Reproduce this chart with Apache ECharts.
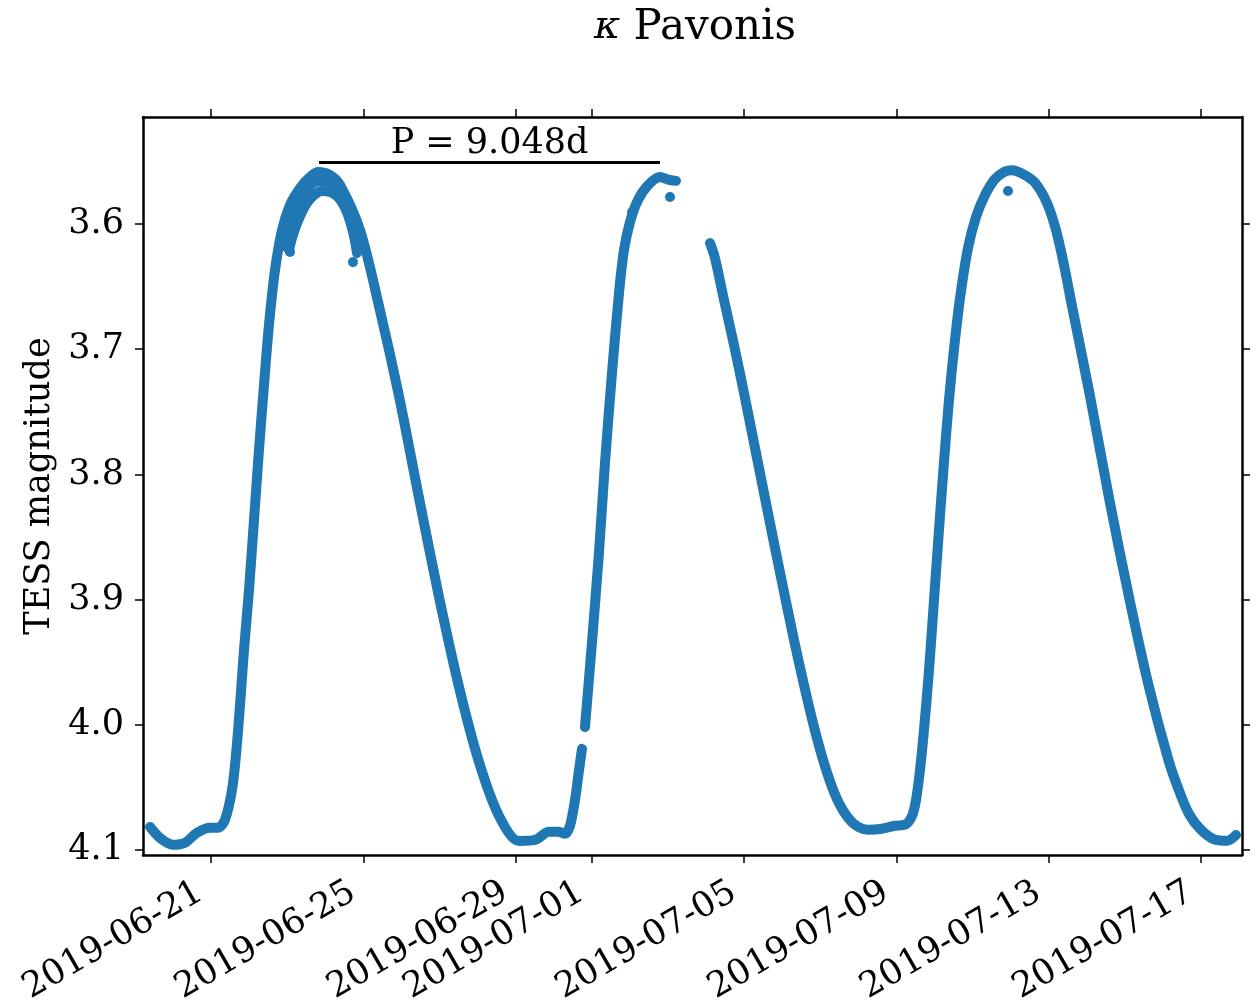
<!DOCTYPE html>
<html>
<head>
<meta charset="utf-8">
<script src="https://cdn.jsdelivr.net/npm/echarts@6/dist/echarts.min.js"></script>
<style>html,body{margin:0;padding:0;background:#fff}#c{width:1260px;height:1000px}</style>
</head>
<body>
<div id="c"></div>
<script>
// Time in days from 2019-06-21 00:00 UTC, magnitude in TESS mag
const seg1T = [-1.602,-1.339,-0.998,-0.683,-0.368,-0.026,0.184,0.368,0.551,0.656,0.762,0.866,0.998,1.129,1.260,1.392,1.523,1.681,1.865,2.075,2.337,2.600,2.810,3.125,3.388,3.913,4.412,4.937,5.463,5.988,6.513,7.038,7.564,8.089,8.509,8.877,9.113,9.297,9.428,9.560,9.665,9.743];
const seg1M = [4.0816,4.0904,4.0958,4.0942,4.0862,4.0822,4.0822,4.0758,4.0521,4.0241,3.9842,3.9403,3.8923,3.8364,3.7804,3.7286,3.6805,3.6367,3.6048,3.5848,3.5713,3.5625,3.5585,3.5609,3.5688,3.6048,3.6655,3.7374,3.8188,3.8979,3.9698,4.0297,4.0728,4.0928,4.0920,4.0854,4.0854,4.0870,4.0806,4.0600,4.0361,4.0192];
const seg2T = [9.822,10.006,10.190,10.347,10.531,10.715,10.846,11.004,11.214,11.477,11.792,12.002,12.212];
const seg2M = [4.0018,3.9339,3.8620,3.7909,3.7190,3.6551,3.6208,3.5984,3.5808,3.5690,3.5625,3.5645,3.5655];
const seg3T = [13.105,13.236,13.473,13.735,13.998,14.261,14.523,14.786,15.049,15.311,15.574,15.837,16.099,16.362,16.625,16.913,17.255,17.622,17.964,18.226,18.410,18.515,18.620,18.725,18.857,18.988,19.119,19.250,19.381,19.539,19.697,19.881,20.091,20.328,20.590,20.853,21.036,21.351,21.640,21.955,22.192,22.402,22.612,23.085,23.584,24.109,24.634,25.160,25.448,25.685,25.974,26.315,26.683,26.919];
const seg3M = [3.6152,3.6272,3.6607,3.6966,3.7350,3.7749,3.8149,3.8548,3.8939,3.9323,3.9682,4.0018,4.0305,4.0537,4.0696,4.0798,4.0838,4.0830,4.0806,4.0798,4.0728,4.0601,4.0361,4.0042,3.9563,3.9003,3.8443,3.7901,3.7406,3.6927,3.6535,3.6192,3.5944,3.5768,3.5640,3.5580,3.5570,3.5605,3.5670,3.5832,3.6048,3.6327,3.6655,3.7374,3.8188,3.8979,3.9698,4.0297,4.0545,4.0712,4.0831,4.0911,4.0927,4.0880];
// noisy band under the first maximum (lower envelope and middle of the scatter)
const noiseLowT = [2.048,2.127,2.232,2.364,2.521,2.705,2.915,3.125,3.309,3.467,3.598,3.703,3.782,3.834];
const noiseLowM = [3.6208,3.6112,3.6016,3.5920,3.5832,3.5768,3.5736,3.5744,3.5776,3.5840,3.5928,3.6032,3.6136,3.6232];
const noiseMidT = [1.970,2.101,2.285,2.495,2.731,2.968,3.204,3.414,3.572,3.703,3.808];
const noiseMidM = [3.6112,3.5952,3.5824,3.5728,3.5665,3.5657,3.5681,3.5744,3.5848,3.5968,3.6096];
// isolated points off the main curve
const outT = [1.917,2.075,3.729,11.057,12.055,20.931];
const outM = [3.6176,3.6224,3.6304,3.5904,3.5784,3.5736];
// period bar
const periodLabel = 'P = 9.048d';
const periodBarT = [2.836, 11.792];
const periodBarM = 3.5505;

const tickLabels = ['2019-06-21','2019-06-25','2019-06-29','2019-07-01','2019-07-05','2019-07-09','2019-07-13','2019-07-17'];
const yTicks = [3.6, 3.7, 3.8, 3.9, 4.0, 4.1];
const titleText = 'Pavonis';
const yName = 'TESS magnitude';

const T0 = Date.UTC(2019, 5, 21);
const tickDays = tickLabels.map(s => (Date.parse(s + 'T00:00:00Z') - T0) / 864e5);
const zip = (a, b) => a.map((v, i) => [v, b[i]]);
const FONT = 'DejaVu Serif';
const C = '#1f77b4';
const FS = 35;

const fmtX = v => {
  const i = tickDays.findIndex(d => Math.abs(d - v) < 1e-6);
  return i >= 0 ? tickLabels[i] : '';
};

const lineCommon = {
  type: 'line', smooth: 0.3, showSymbol: false, silent: true,
  lineStyle: { width: 10, color: C, cap: 'round', join: 'round' },
  itemStyle: { color: C }
};

const xMin = -1.786, xMax = 27.077, yMin = 3.5145, yMax = 4.104;
const axisLineStyle = { show: true, onZero: false, lineStyle: { color: '#000', width: 2.5 } };
const tickStyle = { show: true, inside: false, length: 8, lineStyle: { color: '#000', width: 1.5 } };

const chart = echarts.init(document.getElementById('c'), null, { renderer: 'canvas' });
chart.setOption({
  animation: false,
  backgroundColor: '#fff',
  title: {
    text: '{k|κ} ' + titleText,
    left: 690, top: 2, textAlign: 'center',
    textStyle: {
      fontFamily: FONT, fontSize: 42, fontWeight: 'normal', color: '#000',
      rich: { k: { fontFamily: FONT, fontStyle: 'italic', fontSize: 40, color: '#000' } }
    }
  },
  grid: { left: 143, right: 18, top: 117, bottom: 145, containLabel: false, outerBoundsMode: 'none' },
  xAxis: [{
    type: 'value', position: 'bottom', min: xMin, max: xMax,
    axisLine: axisLineStyle, splitLine: { show: false },
    axisTick: Object.assign({ customValues: tickDays }, tickStyle),
    axisLabel: { customValues: tickDays, formatter: fmtX, rotate: 30, margin: 29,
      padding: [0, 12, 0, 0],
      fontFamily: FONT, fontSize: FS, color: '#000' }
  }, {
    type: 'value', position: 'top', min: xMin, max: xMax,
    axisLine: axisLineStyle, splitLine: { show: false },
    axisTick: Object.assign({ customValues: tickDays }, tickStyle),
    axisLabel: { show: false }
  }],
  yAxis: [{
    type: 'value', position: 'left', inverse: true, min: yMin, max: yMax,
    name: yName, nameLocation: 'middle', nameGap: 85,
    nameTextStyle: { fontFamily: FONT, fontSize: FS, color: '#000' },
    axisLine: axisLineStyle, splitLine: { show: false },
    axisTick: Object.assign({ customValues: yTicks }, tickStyle),
    axisLabel: { customValues: yTicks, formatter: v => v.toFixed(1), margin: 19,
      fontFamily: FONT, fontSize: FS, color: '#000' }
  }, {
    type: 'value', position: 'right', inverse: true, min: yMin, max: yMax,
    axisLine: axisLineStyle, splitLine: { show: false },
    axisTick: Object.assign({ customValues: yTicks }, tickStyle),
    axisLabel: { show: false }
  }],
  series: [
    Object.assign({}, lineCommon, {
      data: zip(seg1T, seg1M),
      markLine: {
        silent: true, symbol: ['none', 'none'], animation: false,
        lineStyle: { color: '#000', width: 3, type: 'solid' },
        label: { show: true, position: 'insideMiddleTop', distance: 1, formatter: periodLabel,
          fontFamily: FONT, fontSize: FS, color: '#000' },
        data: [[{ coord: [periodBarT[0], periodBarM] }, { coord: [periodBarT[1], periodBarM] }]]
      }
    }),
    Object.assign({}, lineCommon, { data: zip(seg2T, seg2M) }),
    Object.assign({}, lineCommon, { data: zip(seg3T, seg3M) }),
    Object.assign({}, lineCommon, { data: zip(noiseLowT, noiseLowM) }),
    Object.assign({}, lineCommon, { data: zip(noiseMidT, noiseMidM) }),
    { type: 'scatter', silent: true, symbolSize: 10, itemStyle: { color: C, opacity: 1 }, data: zip(outT, outM) }
  ]
});
</script>
</body>
</html>
